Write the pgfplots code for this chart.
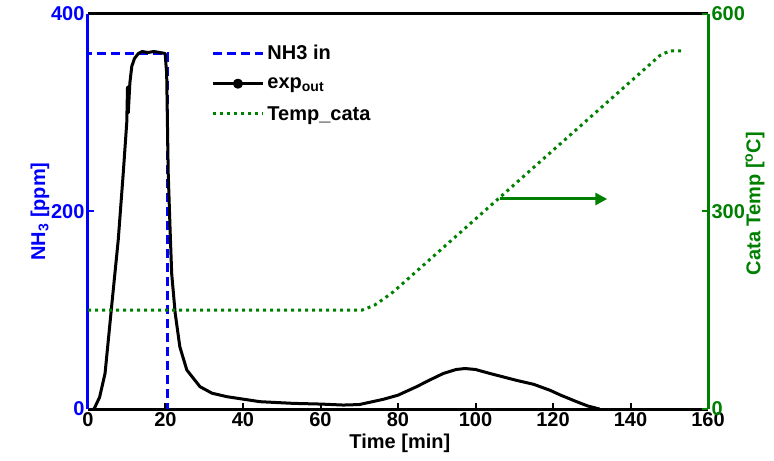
\documentclass[border=0pt]{standalone}
\usepackage{fontspec}
\setmainfont{Liberation Sans}
\usepackage{pgfplots}
\pgfplotsset{compat=1.18}
\usetikzlibrary{arrows.meta}
\definecolor{mblue}{rgb}{0,0,1}
\definecolor{mgreen}{rgb}{0,0.5,0}
\newcommand{\bigfont}{\fontsize{20bp}{23bp}\selectfont\bfseries}
\pgfplotsset{
  common/.style={
    scale only axis, width=620bp, height=395bp,
    at={(0,0)}, anchor=south west,
    xmin=0, xmax=160,
    /pgf/number format/assume math mode=true,
    tick label style={font=\bigfont},
    label style={font=\bigfont},
    tick align=inside,
    major tick length=6bp,
    axis line style={line width=3bp},
    every tick/.style={line width=2bp},
  },
  longline/.style={legend image code/.code={\draw[##1] (0bp,0bp) -- (50bp,0bp);}},
  dotline/.style={legend image code/.code={\draw[##1] (0bp,0bp) -- (50bp,0bp); \fill[black] (25bp,0bp) circle (3.5bp);}},
}
\begin{document}
\begin{tikzpicture}[font=\bigfont]
\path[use as bounding box] (-88bp,-52bp) rectangle (686bp,409bp);
\begin{axis}[common,
  ymin=0, ymax=400,
  axis x line*=box, axis y line*=left,
  xtick={0,20,...,160}, ytick={0,200,400},
  xtick pos=bottom,
  x axis line style={black},
  y axis line style={mblue},
  xticklabel style={black},
  yticklabel style={mblue},
  y tick style={mblue},
  x tick style={black},
  xlabel={Time [min]},
  xlabel style={at={(axis description cs:0.503,-0.086)}, anchor=center, black},
  ylabel={NH\textsubscript{3} [ppm]},
  ylabel style={at={(axis description cs:-0.0774,0.5)}, anchor=center, mblue},
  legend style={at={(axis description cs:0.194,0.932)}, anchor=north west,
    draw=none, fill=none, font=\bigfont, row sep=12.5bp,
    nodes={inner xsep=3bp}},
  legend cell align=left,
  longline,
]
\addplot[mblue, line width=3bp, dash pattern=on 9bp off 5bp]
  coordinates {(0,0)(0,360)(20.4,360)(20.4,0)};
\addlegendentry{NH3 in}
\addplot[black, line width=3bp, line join=round, dotline]
  coordinates {(1.5,0)(1.8,2)(3,12)(4.4,36)(6.1,104)(7.8,171)(9.1,239)(10.0,290)(10.2,326)(10.4,300)(10.8,330)(11.3,347)(12,355)(13,360)(14,362)(15.5,361)(17,362)(18.5,361)(19.9,360)(20.3,340)(20.7,239)(21.2,180)(21.6,137)(22.5,97)(23.7,63)(25.5,39.5)(28.9,22.6)(32,16)(35.8,12.5)(40,10)(44.4,7.4)(53,5.7)(60,5)(65.9,4)(70,4.5)(76.2,9.8)(80,14)(84.8,22.6)(88,29)(91.7,36)(95,40)(97.3,41)(100,40)(103.7,36)(110.6,29)(115,25)(119.2,19)(122,14)(126.1,7.4)(129,3)(131.3,0.7)(132,0)};
\addlegendentry{exp\textsubscript{out}}
\addlegendimage{mgreen, line width=3bp, dash pattern=on 3bp off 4bp}
\addlegendentry{Temp\_cata}
\end{axis}
\begin{axis}[common,
  ymin=0, ymax=600,
  axis x line=none, axis y line*=right,
  ytick={0,300,600},
  y axis line style={mgreen},
  yticklabel style={mgreen},
  y tick style={mgreen},
  ylabel={Cata Temp [\textsuperscript{o}C]},
  ylabel style={at={(axis description cs:1.0758,0.52)}, anchor=center, mgreen},
]
\addplot[mgreen, line width=3bp, dash pattern=on 3bp off 4bp]
  coordinates {(0,150)(70.6,150)(72,153)(74,158)(76,166)(78.8,178)(147.6,537)(149,541)(150.5,544)(153.6,544)};
\draw[mgreen, line width=3bp, -{Triangle[length=12bp,width=12bp]}] (axis cs:106.3,319) -- (axis cs:134,319);
\end{axis}
\end{tikzpicture}
\end{document}
